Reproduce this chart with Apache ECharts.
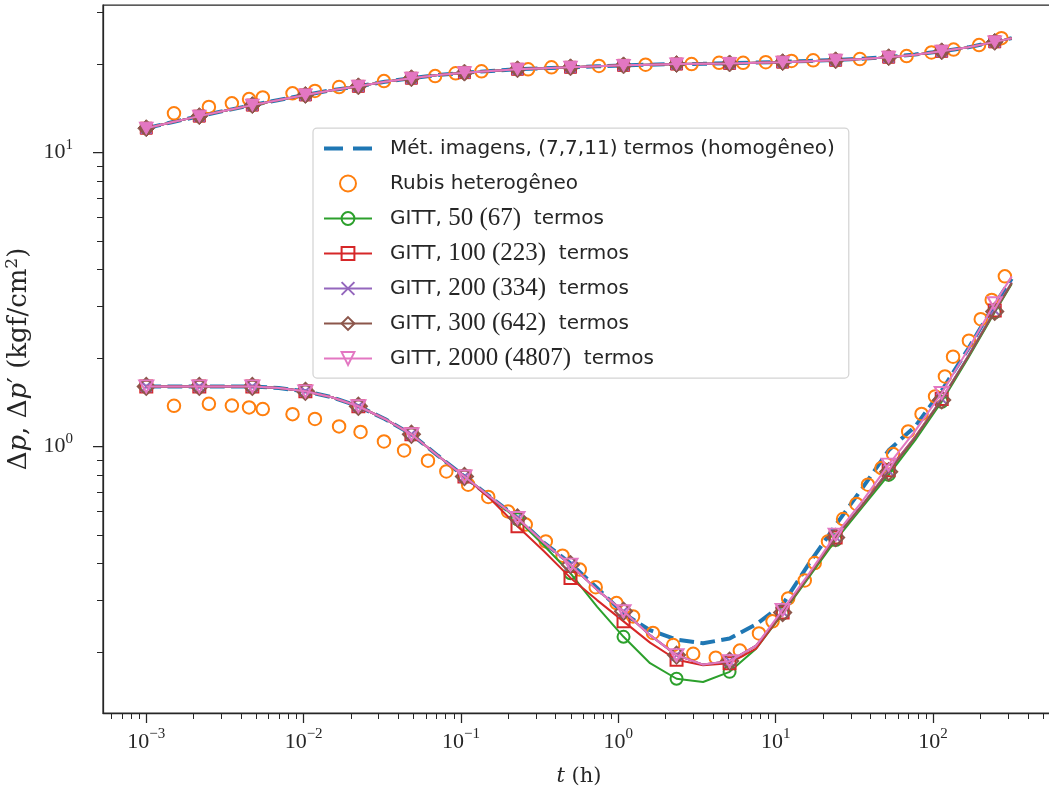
<!DOCTYPE html>
<html>
<head>
<meta charset="utf-8">
<script src="https://cdn.jsdelivr.net/npm/echarts@6/dist/echarts.min.js"></script>
<style>html,body{margin:0;padding:0;background:#fff}#c{width:1049px;height:798px}</style>
</head>
<body>
<div id="c"></div>
<script>
// ---------- data (t in hours, pressures in kgf/cm2) ----------
const legendNames = [
  'Mét. imagens, (7,7,11) termos (homogêneo)',
  'Rubis heterogêneo',
  'GITT, 50 (67) termos',
  'GITT, 100 (223) termos',
  'GITT, 200 (334) termos',
  'GITT, 300 (642) termos',
  'GITT, 2000 (4807) termos'
];
const xMajorTicks = [0.001, 0.01, 0.1, 1, 10, 100];
const yMajorTicks = [1, 10];

// time grid of the analytic / GITT curves
const tGitt = [0.001, 0.001474, 0.002173, 0.003203, 0.004721, 0.006959, 0.01026, 0.01512, 0.02228, 0.03285,
  0.04842, 0.07136, 0.1052, 0.1551, 0.2286, 0.3369, 0.4966, 0.7320, 1.079, 1.590,
  2.344, 3.455, 5.093, 7.507, 11.07, 16.31, 24.04, 35.44, 52.24, 77.00,
  113.5, 167.3, 246.6, 316.2];

// pressure drop (upper branch)
const imgUp = [12.1, 12.7, 13.3, 13.9, 14.5, 15.1, 15.7, 16.3, 16.8, 17.4,
  17.9, 18.35, 18.7, 18.95, 19.2, 19.35, 19.5, 19.65, 19.8, 19.9,
  20.0, 20.05, 20.15, 20.25, 20.35, 20.5, 20.65, 20.85, 21.15, 21.55,
  22.1, 22.8, 23.8, 24.5];
const gittUp = [12.1, 12.7, 13.3, 13.9, 14.5, 15.1, 15.7, 16.3, 16.8, 17.4,
  17.9, 18.35, 18.7, 18.95, 19.2, 19.35, 19.5, 19.65, 19.8, 19.9,
  20.0, 20.05, 20.1, 20.2, 20.3, 20.45, 20.6, 20.8, 21.1, 21.5,
  22.1, 22.8, 23.8, 24.5];

// pressure derivative (lower branch)
const imgDown = [1.60, 1.60, 1.60, 1.60, 1.60, 1.58, 1.54, 1.47, 1.37, 1.24,
  1.10, 0.93, 0.79, 0.67, 0.571, 0.47, 0.40, 0.33, 0.27, 0.237,
  0.22, 0.214, 0.222, 0.248, 0.29, 0.40, 0.54, 0.72, 0.97, 1.17,
  1.55, 2.15, 3.05, 3.72];
const g50Down = [1.60, 1.60, 1.60, 1.60, 1.60, 1.58, 1.54, 1.47, 1.37, 1.24,
  1.10, 0.93, 0.79, 0.67, 0.565, 0.46, 0.37, 0.285, 0.225, 0.183,
  0.162, 0.158, 0.171, 0.205, 0.27, 0.36, 0.48, 0.62, 0.80, 1.05,
  1.42, 2.00, 2.86, 3.57];
const g100Down = [1.60, 1.60, 1.60, 1.60, 1.60, 1.58, 1.54, 1.47, 1.37, 1.24,
  1.10, 0.93, 0.79, 0.66, 0.535, 0.44, 0.357, 0.30, 0.254, 0.215,
  0.188, 0.18, 0.183, 0.205, 0.272, 0.365, 0.49, 0.63, 0.83, 1.08,
  1.45, 2.03, 2.90, 3.60];
const g200Down = [1.60, 1.60, 1.60, 1.60, 1.60, 1.58, 1.54, 1.47, 1.37, 1.24,
  1.10, 0.93, 0.79, 0.67, 0.571, 0.47, 0.396, 0.325, 0.275, 0.228,
  0.195, 0.181, 0.186, 0.21, 0.274, 0.366, 0.492, 0.632, 0.825, 1.075,
  1.45, 2.03, 2.90, 3.62];
const g300Down = [1.60, 1.60, 1.60, 1.60, 1.60, 1.58, 1.54, 1.47, 1.37, 1.24,
  1.10, 0.93, 0.79, 0.67, 0.571, 0.47, 0.396, 0.325, 0.275, 0.228,
  0.195, 0.181, 0.186, 0.21, 0.272, 0.365, 0.49, 0.63, 0.82, 1.07,
  1.44, 2.02, 2.88, 3.60];
const g2000Down = [1.60, 1.60, 1.60, 1.60, 1.60, 1.58, 1.54, 1.47, 1.37, 1.24,
  1.10, 0.93, 0.79, 0.67, 0.571, 0.47, 0.396, 0.325, 0.275, 0.228,
  0.195, 0.181, 0.186, 0.21, 0.278, 0.37, 0.501, 0.65, 0.867, 1.13,
  1.52, 2.14, 3.07, 3.79];

// Rubis (heterogeneous simulator) points
const rubisUpT = [0.0015, 0.0025, 0.0035, 0.0045, 0.0055, 0.0085, 0.0118, 0.0168, 0.0324, 0.0685,
  0.0925, 0.135, 0.267, 0.376, 0.753, 1.49, 2.92, 4.37, 6.21, 8.65,
  12.6, 17.3, 34.3, 67.9, 97.7, 135, 196, 272];
const rubisUp = [13.6, 14.3, 14.7, 15.2, 15.4, 15.9, 16.2, 16.7, 17.5, 18.2,
  18.6, 18.9, 19.2, 19.5, 19.7, 19.9, 20.0, 20.2, 20.2, 20.3,
  20.5, 20.6, 20.8, 21.3, 21.9, 22.4, 23.2, 24.5];
const rubisDownT = [0.0015, 0.0025, 0.0035, 0.0045, 0.0055, 0.0085, 0.0118, 0.0168, 0.023, 0.0324,
  0.0435, 0.0617, 0.0807, 0.111, 0.149, 0.199, 0.258, 0.346, 0.442, 0.569,
  0.718, 0.973, 1.24, 1.66, 2.23, 2.99, 4.16, 5.92, 7.83, 9.55,
  12.0, 15.3, 17.7, 21.5, 26.8, 32.6, 38.6, 47.0, 55.7, 69.5,
  84.5, 103, 119, 134, 169, 201, 236, 286];
const rubisDown = [1.375, 1.397, 1.378, 1.358, 1.34, 1.288, 1.24, 1.17, 1.12, 1.04,
  0.969, 0.894, 0.822, 0.741, 0.673, 0.601, 0.542, 0.475, 0.425, 0.381,
  0.332, 0.293, 0.264, 0.232, 0.211, 0.197, 0.191, 0.202, 0.231, 0.254,
  0.304, 0.35, 0.401, 0.475, 0.566, 0.637, 0.741, 0.844, 0.942, 1.125,
  1.29, 1.48, 1.73, 2.02, 2.29, 2.71, 3.15, 3.79];

// ---------- styling ----------
const C = {blue:'#1f77b4', orange:'#ff7f0e', green:'#2ca02c', red:'#d62728', purple:'#9467bd', brown:'#8c564b', pink:'#e377c2'};
const INK = '#262626';
const CLEAR = 'rgba(255,255,255,0)';
const xMin = Math.pow(10, -3.275), xMax = Math.pow(10, 2.775);
const yMin = Math.pow(10, -0.907), yMax = Math.pow(10, 1.502);

function minorTicks(lo, hi, e0, e1) {
  const out = [];
  for (let e = e0; e <= e1; e++) for (let k = 2; k <= 9; k++) {
    const v = k * Math.pow(10, e);
    if (v >= lo && v <= hi) out.push(v);
  }
  return out;
}
const xMinor = minorTicks(xMin, xMax, -4, 2);
const yMinor = minorTicks(yMin, yMax, -1, 1);

function supFmt(v) {
  const e = Math.round(Math.log10(v));
  return '10{s|' + (e < 0 ? '\u2212' + (-e) : String(e)) + '}';
}
const isMark = i => (i % 2 === 0 && i <= 32);

function curve(name, vals, color, sym, size, filled, rotate, z, dashed) {
  let itemStyle;
  if (!sym) itemStyle = {color: CLEAR, borderColor: CLEAR, borderWidth: 0};
  else if (filled) itemStyle = {color: color, borderColor: color, borderWidth: 1};
  else itemStyle = {color: CLEAR, borderColor: color, borderWidth: 2};
  return {
    type: 'line', name: name,
    data: tGitt.map((t, i) => (sym && isMark(i)) ? {value: [t, vals[i]]} : {value: [t, vals[i]], symbol: 'none'}),
    symbol: sym || 'none', symbolSize: size, symbolRotate: rotate || 0,
    showSymbol: !!sym,
    lineStyle: {color: color, width: dashed ? 4 : 2, type: dashed ? [14.8, 6.4] : 'solid'},
    itemStyle: itemStyle,
    emphasis: {disabled: true},
    z: z, silent: true
  };
}
const X_PATH = 'path://M0,0L10,10M10,0L0,10';
const rubisStyle = {color: CLEAR, borderColor: C.orange, borderWidth: 2, opacity: 1};

const series = [
  curve(legendNames[0], imgDown, C.blue, null, 0, false, 0, 2, true),
  curve('up0', imgUp, C.blue, null, 0, false, 0, 2, true),
  {type: 'scatter', name: legendNames[1], data: rubisDownT.map((t, i) => [t, rubisDown[i]]),
   symbol: 'circle', symbolSize: 12.5, itemStyle: rubisStyle, emphasis: {disabled: true}, z: 3, silent: true},
  {type: 'scatter', name: 'up1', data: rubisUpT.map((t, i) => [t, rubisUp[i]]),
   symbol: 'circle', symbolSize: 12.5, itemStyle: rubisStyle, emphasis: {disabled: true}, z: 3, silent: true},
  curve(legendNames[2], g50Down, C.green, 'circle', 12, false, 0, 4),
  curve('up2', gittUp, C.green, 'circle', 12, true, 0, 4),
  curve(legendNames[3], g100Down, C.red, 'rect', 12, false, 0, 5),
  curve('up3', gittUp, C.red, 'rect', 12, true, 0, 5),
  curve(legendNames[4], g200Down, C.purple, X_PATH, 11, false, 0, 6),
  curve('up4', gittUp, C.purple, X_PATH, 11, false, 0, 6),
  curve(legendNames[5], g300Down, C.brown, 'diamond', 17, false, 0, 7),
  curve('up5', gittUp, C.brown, 'diamond', 17, true, 0, 7),
  curve(legendNames[6], g2000Down, C.pink, 'triangle', [14, 12], false, 180, 8),
  curve('up6', gittUp, C.pink, 'triangle', [14, 12], true, 180, 8)
];
// purple x markers are stroked
series[8].itemStyle = {color: C.purple, borderColor: C.purple, borderWidth: 2};
series[9].itemStyle = {color: C.purple, borderColor: C.purple, borderWidth: 2};

const tickLabelStyle = {
  color: INK, fontFamily: 'Liberation Serif', fontSize: 22,
  rich: {s: {color: INK, fontFamily: 'Liberation Serif', fontSize: 15, verticalAlign: 'top', lineHeight: 30}}
};

const legendData = legendNames.map((n, i) => i === 0
  ? {name: n, lineStyle: {width: 4, type: [19, 10], color: C.blue}}
  : {name: n});

function legendFmt(n) {
  const m = n.match(/^(GITT, )(\d+ \(\d+\))( termos)$/);
  if (m) return '{t|' + m[1] + '}{m|' + m[2] + '}{t| ' + m[3] + '}';
  return '{t|' + n + '}';
}

const option = {
  animation: false,
  backgroundColor: '#ffffff',
  grid: {left: 103, top: 5, width: 952, height: 708, show: true, borderColor: INK, borderWidth: 1.25,
         backgroundColor: 'rgba(0,0,0,0)', containLabel: false, outerBoundsMode: 'none'},
  legend: {
    data: legendData,
    orient: 'vertical', left: 313, top: 128,
    padding: [8, 14, 7, 9],
    itemWidth: 48, itemHeight: 16, itemGap: 10,
    backgroundColor: 'rgba(255,255,255,0.8)',
    borderColor: '#d4d4d4', borderWidth: 1.25, borderRadius: 4,
    selectedMode: false,
    formatter: legendFmt,
    textStyle: {
      color: INK, fontFamily: 'DejaVu Sans', fontSize: 20, lineHeight: 25, padding: [0, 0, 0, 13],
      rich: {
        t: {color: INK, fontFamily: 'DejaVu Sans', fontSize: 20, lineHeight: 25, height: 25},
        m: {color: INK, fontFamily: 'Liberation Serif', fontSize: 25, lineHeight: 25, height: 25}
      }
    }
  },
  xAxis: [{
    type: 'log', logBase: 10, min: xMin, max: xMax, position: 'bottom',
    axisLine: {show: true, onZero: false, lineStyle: {color: INK, width: 1.25}},
    axisTick: {show: true, customValues: xMajorTicks, length: 10, lineStyle: {color: INK, width: 1.25}},
    axisLabel: Object.assign({show: true, customValues: xMajorTicks, formatter: supFmt, margin: 14}, tickLabelStyle),
    splitLine: {show: false},
    name: '{i|t} (h)', nameLocation: 'middle', nameGap: 53,
    nameTextStyle: {color: INK, fontFamily: 'DejaVu Serif', fontSize: 21,
      rich: {i: {color: INK, fontFamily: 'DejaVu Serif', fontSize: 21, fontStyle: 'italic'}}}
  }, {
    type: 'log', logBase: 10, min: xMin, max: xMax, position: 'bottom',
    axisLine: {show: false},
    axisTick: {show: true, customValues: xMinor, length: 6, lineStyle: {color: INK, width: 1}},
    axisLabel: {show: false}, splitLine: {show: false}
  }],
  yAxis: [{
    type: 'log', logBase: 10, min: yMin, max: yMax, position: 'left',
    axisLine: {show: true, onZero: false, lineStyle: {color: INK, width: 1.25}},
    axisTick: {show: true, customValues: yMajorTicks, length: 10, lineStyle: {color: INK, width: 1.25}},
    axisLabel: Object.assign({show: true, customValues: yMajorTicks, formatter: supFmt, margin: 30}, tickLabelStyle),
    splitLine: {show: false},
    name: '{r|\u0394}{i|p}{r|, \u0394}{i|p}{r|\u2032 (kgf/cm}{s|2}{r|)}', nameLocation: 'middle', nameGap: 64,
    nameTextStyle: {color: INK, fontFamily: 'DejaVu Serif', fontSize: 26,
      rich: {
        r: {color: INK, fontFamily: 'DejaVu Serif', fontSize: 26},
        i: {color: INK, fontFamily: 'DejaVu Serif', fontSize: 26, fontStyle: 'italic'},
        s: {color: INK, fontFamily: 'DejaVu Serif', fontSize: 17, verticalAlign: 'top', lineHeight: 32}
      }}
  }, {
    type: 'log', logBase: 10, min: yMin, max: yMax, position: 'left',
    axisLine: {show: false},
    axisTick: {show: true, customValues: yMinor, length: 6, lineStyle: {color: INK, width: 1}},
    axisLabel: {show: false}, splitLine: {show: false}
  }],
  series: series
};

const chart = echarts.init(document.getElementById('c'), null, {renderer: 'canvas'});
chart.setOption(option);
</script>
</body>
</html>
